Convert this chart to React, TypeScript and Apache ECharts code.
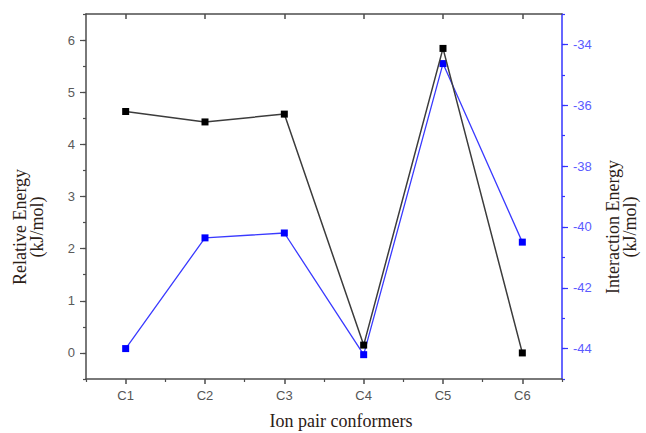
import React, { useEffect, useRef } from "react";
import * as echarts from "echarts";

const categories = ["C1", "C2", "C3", "C4", "C5", "C6"];
const relativeEnergy = [4.63, 4.43, 4.58, 0.15, 5.84, 0.0];
const interactionEnergy = [-44.0, -40.36, -40.2, -44.2, -34.63, -40.5];

const leftRange = [-0.5, 6.5];
const rightRange = [-45, -33];

const gray = "#4d4d4d";
const blue = "#3434ff";
const titleColor = "#2b2016";
const serif = "'Liberation Serif', 'Times New Roman', serif";
const sans = "'Liberation Sans', Arial, sans-serif";

export default function App() {
  const ref = useRef<HTMLDivElement>(null);
  useEffect(() => {
    if (!ref.current) return;
    const chart = echarts.init(ref.current, null, { renderer: "svg" });
    chart.setOption({
      animation: false,
      backgroundColor: "#ffffff",
      grid: { left: 86, top: 14, right: 84, bottom: 54 },
      xAxis: [
        {
          type: "category",
          position: "bottom",
          data: categories,
          boundaryGap: true,
          axisLine: { show: true, onZero: false, lineStyle: { color: gray, width: 1.5 } },
          axisTick: { show: true, alignWithLabel: true, length: 5, lineStyle: { color: gray, width: 1.5 } },
          axisLabel: { color: "#555", fontSize: 13, fontFamily: sans, margin: 10 },
          splitLine: { show: false },
        },
        {
          type: "category",
          position: "bottom",
          data: categories,
          boundaryGap: true,
          axisLine: { show: false, onZero: false },
          axisTick: { show: true, length: 3, lineStyle: { color: gray, width: 1.2 } },
          axisLabel: { show: false },
          splitLine: { show: false },
        },
        {
          type: "category",
          position: "top",
          data: categories,
          boundaryGap: true,
          axisLine: { show: true, onZero: false, lineStyle: { color: gray, width: 1.5 } },
          axisTick: { show: true, alignWithLabel: true, inside: true, length: 5, lineStyle: { color: gray, width: 1.5 } },
          axisLabel: { show: false },
          splitLine: { show: false },
        },
      ],
      yAxis: [
        {
          type: "value",
          position: "left",
          min: leftRange[0],
          max: leftRange[1],
          splitNumber: 7,
          axisLine: { show: true, onZero: false, lineStyle: { color: gray, width: 1.5 } },
          axisTick: { show: true, length: 6, lineStyle: { color: gray, width: 1.2 } },
          axisLabel: { color: "#5a5a5a", fontSize: 13, fontFamily: sans, margin: 11, showMinLabel: false, showMaxLabel: false },
          splitLine: { show: false },
        },
        {
          type: "value",
          position: "right",
          min: rightRange[0],
          max: rightRange[1],
          splitNumber: 6,
          axisLine: { show: true, onZero: false, lineStyle: { color: blue, width: 1.5 } },
          axisTick: { show: true, length: 6, lineStyle: { color: blue, width: 1.2 } },
          axisLabel: { color: "#5b5bff", fontSize: 13, fontFamily: sans, margin: 11, showMinLabel: false, showMaxLabel: false },
          splitLine: { show: false },
        },
        {
          type: "value",
          position: "left",
          min: leftRange[0],
          max: leftRange[1],
          interval: 0.5,
          axisLine: { show: false, onZero: false },
          axisTick: { show: true, length: 3, lineStyle: { color: gray, width: 1.2 } },
          axisLabel: { show: false },
          splitLine: { show: false },
        },
        {
          type: "value",
          position: "right",
          min: rightRange[0],
          max: rightRange[1],
          interval: 1,
          axisLine: { show: false, onZero: false },
          axisTick: { show: true, length: 3, lineStyle: { color: blue, width: 1.2 } },
          axisLabel: { show: false },
          splitLine: { show: false },
        },
      ],
      series: [
        {
          name: "Interaction Energy",
          type: "line",
          xAxisIndex: 0,
          yAxisIndex: 1,
          data: interactionEnergy,
          symbol: "rect",
          symbolSize: 7,
          lineStyle: { color: "#3a3aff", width: 1.3 },
          itemStyle: { color: "#0000ff" },
          z: 2,
        },
        {
          name: "Relative Energy",
          type: "line",
          xAxisIndex: 0,
          yAxisIndex: 0,
          data: relativeEnergy,
          symbol: "rect",
          symbolSize: 7,
          lineStyle: { color: "#3c3c3c", width: 1.5 },
          itemStyle: { color: "#000000" },
          z: 3,
        },
      ],
      graphic: [
        {
          type: "text",
          x: 28,
          y: 227,
          rotation: Math.PI / 2,
          style: {
            text: "Relative Energy\n(kJ/mol)",
            font: `18px ${serif}`,
            fill: titleColor,
            align: "center",
            verticalAlign: "middle",
            lineHeight: 17,
          },
        },
        {
          type: "text",
          x: 621.5,
          y: 227,
          rotation: Math.PI / 2,
          style: {
            text: "Interaction Energy\n(kJ/mol)",
            font: `18px ${serif}`,
            fill: titleColor,
            align: "center",
            verticalAlign: "middle",
            lineHeight: 17,
          },
        },
        {
          type: "text",
          x: 341,
          y: 421,
          style: {
            text: "Ion pair conformers",
            font: `18px ${serif}`,
            fill: titleColor,
            align: "center",
            verticalAlign: "middle",
          },
        },
      ],
    });
    return () => chart.dispose();
  }, []);
  return (
    <div
      ref={ref}
      style={{ position: "fixed", left: 0, top: 0, width: 646, height: 433, background: "#fff" }}
    />
  );
}
